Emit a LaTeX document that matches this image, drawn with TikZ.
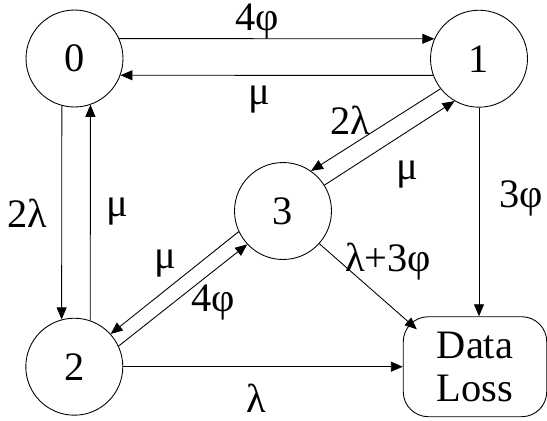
\documentclass[tikz,border=0pt]{standalone}
\usepackage{fontspec}
\setmainfont{Liberation Serif}
\usetikzlibrary{arrows.meta}

\tikzset{
  state/.style={draw, circle, minimum size=1.94cm, inner sep=0pt, line width=0.5pt},
  lossbox/.style={draw, rectangle, rounded corners=0.5cm, minimum width=2.87cm,
    minimum height=2cm, align=center, inner sep=0pt, line width=0.5pt},
  trans/.style={-{Triangle[length=2.4mm,width=2mm]}, line width=0.5pt},
  rate/.style={inner sep=0pt}
}

\begin{document}
\begin{tikzpicture}[x=0.02cm, y=-0.02cm, font=\fontsize{23}{24.5}\selectfont]
    \useasboundingbox (0,0) rectangle (547,420);
    % States
    \node[state] (n0) at (74.5,58.5) {0};
    \node[state] (n1) at (479,58.7) {1};
    \node[state] (n3) at (283,211) {3};
    \node[state] (n2) at (74.3,366.7) {2};
    \node[lossbox] (dl) at (475,366.7) {Data\\Loss};
    % Transitions
    \draw[trans] (n0.24) -- (n1.156);
    \draw[trans] (n1.200) -- (n0.-20);
    \draw[trans] (n0.255) -- (n2.105);
    \draw[trans] (n2.71) -- (n0.289);
    \draw[trans] (n1.218) -- (n3.55);
    \draw[trans] (n3.32) -- (n1.240);
    \draw[trans] (n3.205) -- (n2.42);
    \draw[trans] (n2.25) -- (n3.223);
    \draw[trans] (n2.east) -- (n2.east -| dl.west);
    \draw[trans] (n1.south) -- (n1.south |- dl.north);
    \draw[trans] (n3.-42) -- ([shift={(14,13)}]dl.north west);
    % Rates
    \node[rate] (r01) at (257,21) {4φ};
    \node[rate] (r10) at (259,100) {μ};
    \node[rate] (r02) at (27,213) {2λ};
    \node[rate] (r20) at (117,212) {μ};
    \node[rate] (r13) at (350,120) {2λ};
    \node[rate] (r31) at (407,175) {μ};
    \node[rate] (r32) at (165,264) {μ};
    \node[rate] (r23) at (213,302) {4φ};
    \node[rate] (r2l) at (256,398) {λ};
    \node[rate] (r3l) at (388,262) {λ+3φ};
    \node[rate] (r1l) at (521,198) {3φ};
\end{tikzpicture}
\end{document}
